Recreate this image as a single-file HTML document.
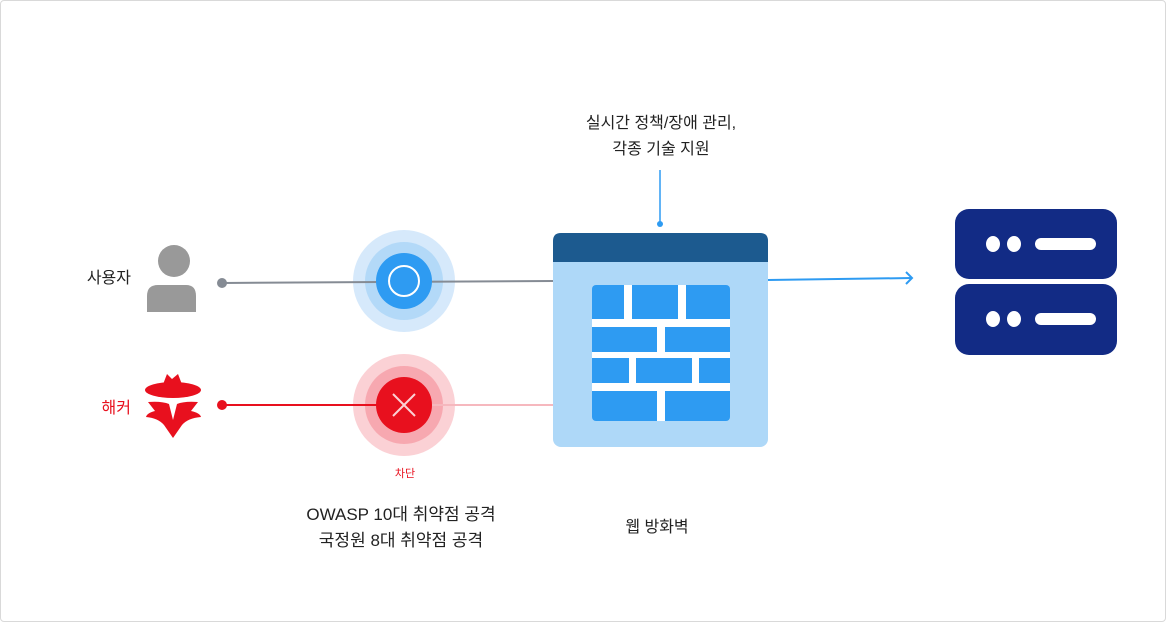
<!DOCTYPE html>
<html><head><meta charset="utf-8"><style>
html,body{margin:0;padding:0;background:#fff}
#c{position:relative;width:1164px;height:620px;border:1px solid #d9d9d9;border-radius:4px;overflow:hidden;font-family:"Liberation Sans","Noto Sans CJK KR",sans-serif;color:#222}
.t{position:absolute;font-size:16px;white-space:nowrap;text-align:center;line-height:26px}
</style></head><body><div id="c">
<svg width="1166" height="622" style="position:absolute;left:-1px;top:-1px">
<!-- user -->
<circle cx="174" cy="261" r="16" fill="#999"/>
<path d="M147 312 V296 Q147 285 158 285 H186 Q196 285 196 296 V312 Z" fill="#999"/>
<!-- hacker -->
<path d="M162 387 L167 374 L172 379 L178 374 L183 387 Z" fill="#e8101e"/>
<ellipse cx="173" cy="390" rx="28" ry="8" fill="#e8101e"/>
<path d="M148 402 Q162 401 169 404 L173 420 L177 404 Q184 401 198 402 L191 411 Q200 413 201 417 Q188 418 182 425 L173 438 L164 425 Q158 418 146 417 Q147 413 155 411 Z" fill="#e8101e"/>
<!-- outer rings -->
<circle cx="404" cy="281" r="51" fill="#d6e9fb"/>
<circle cx="404" cy="281" r="39" fill="#b3d9f8"/>
<circle cx="404" cy="405" r="51" fill="#fbd1d5"/>
<circle cx="404" cy="405" r="39" fill="#f7a8b0"/>
<!-- lines -->
<line x1="222" y1="283" x2="553" y2="281" stroke="#858b94" stroke-width="2"/>
<circle cx="222" cy="283" r="5" fill="#858b94"/>
<line x1="222" y1="405" x2="404" y2="405" stroke="#e8101e" stroke-width="2"/>
<line x1="404" y1="405" x2="553" y2="405" stroke="#f6b8be" stroke-width="2"/>
<circle cx="222" cy="405" r="5" fill="#e8101e"/>
<!-- inner circles -->
<circle cx="404" cy="281" r="28" fill="#2e9bf2"/>
<circle cx="404" cy="281" r="15" fill="none" stroke="#fff" stroke-width="2"/>
<circle cx="404" cy="405" r="28" fill="#e8101e"/>
<path d="M393 394 L415 416 M415 394 L393 416" stroke="#fbd1d5" stroke-width="2"/>
<!-- top connector -->
<line x1="660" y1="170" x2="660" y2="224" stroke="#2e9bf2" stroke-width="1.5"/>
<circle cx="660" cy="224" r="3" fill="#2e9bf2"/>
<!-- firewall -->
<rect x="553" y="233" width="215" height="214" rx="8" fill="#aed8f8"/>
<path d="M553 262 V241 Q553 233 561 233 H760 Q768 233 768 241 V262 Z" fill="#1c5a8f"/>
<rect x="592" y="285" width="138" height="136" rx="4" fill="#2e9bf2"/>
<g fill="#fff">
<rect x="592" y="319" width="138" height="8"/><rect x="592" y="352" width="138" height="6"/><rect x="592" y="383" width="138" height="8"/>
<rect x="624" y="285" width="8" height="34"/><rect x="678" y="285" width="8" height="34"/>
<rect x="657" y="327" width="8" height="25"/>
<rect x="629" y="358" width="7" height="25"/><rect x="692" y="358" width="7" height="25"/>
<rect x="657" y="391" width="8" height="30"/>
</g>
<!-- arrow -->
<line x1="768" y1="280" x2="912" y2="278" stroke="#2e9bf2" stroke-width="2"/>
<path d="M906 272 L912 278 L906 284" fill="none" stroke="#2e9bf2" stroke-width="2"/>
<!-- server -->
<rect x="955" y="209" width="162" height="70" rx="14" fill="#122b85"/>
<rect x="955" y="284" width="162" height="71" rx="14" fill="#122b85"/>
<g fill="#fff">
<ellipse cx="993" cy="244" rx="7" ry="8"/><ellipse cx="1014" cy="244" rx="7" ry="8"/>
<rect x="1035" y="238" width="61" height="12" rx="6"/>
<ellipse cx="993" cy="319" rx="7" ry="8"/><ellipse cx="1014" cy="319" rx="7" ry="8"/>
<rect x="1035" y="313" width="61" height="12" rx="6"/>
</g>
</svg>
<div class="t" style="left:560px;top:110px;width:200px">실시간 정책/장애 관리,<br>각종 기술 지원</div>
<div class="t" style="left:280px;top:501px;width:240px;font-size:17px">OWASP 10대 취약점 공격<br>국정원 8대 취약점 공격</div>
<div class="t" style="left:596px;top:514px;width:120px">웹 방화벽</div>
<div class="t" style="left:70px;top:265px;width:60px;text-align:right">사용자</div>
<div class="t" style="left:70px;top:395px;width:60px;text-align:right;color:#e8101e">해커</div>
<div class="t" style="left:374px;top:460px;width:60px;font-size:11px;color:#e8101e">차단</div>
</div></body></html>
